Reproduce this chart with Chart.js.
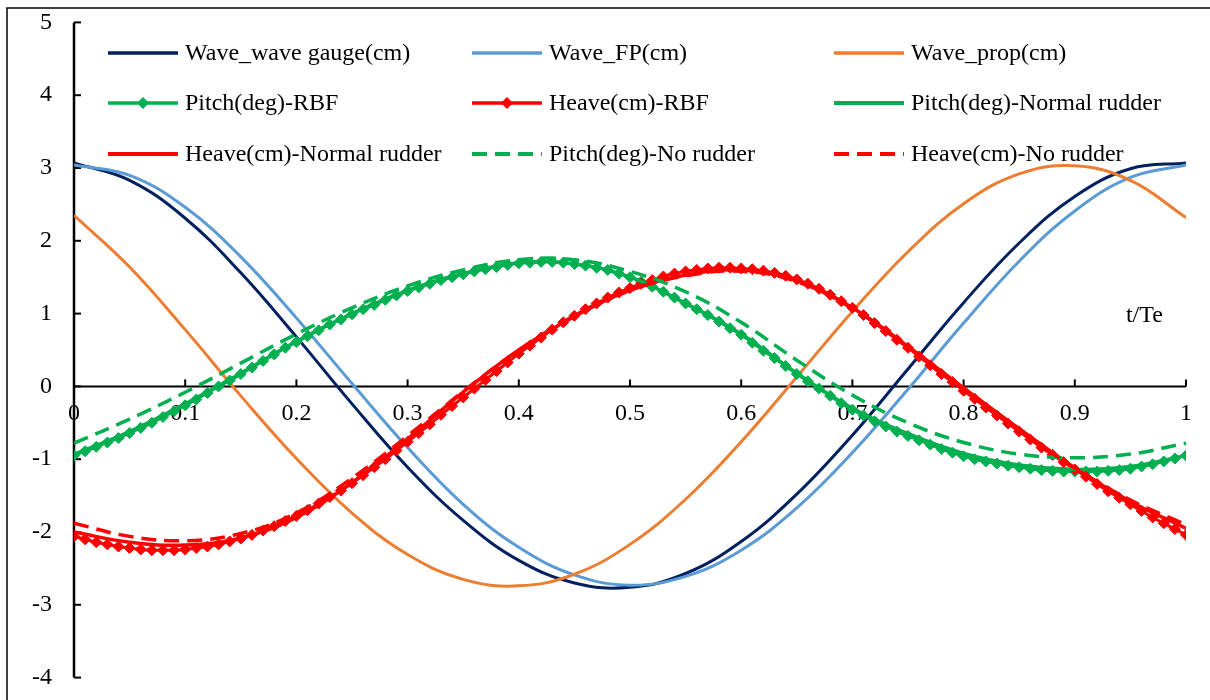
<!DOCTYPE html>
<html>
<head>
<meta charset="utf-8">
<script src="https://cdn.jsdelivr.net/npm/chart.js@4.4.1/dist/chart.umd.min.js"></script>
<style>
  html, body { margin: 0; padding: 0; background: #fff; }
  canvas { display: block; }
</style>
</head>
<body>
<canvas id="motionChart" width="1210" height="700"></canvas>
<script>
// x positions (t/Te)
const tCoarse = [0, 0.05, 0.1, 0.15, 0.2, 0.25, 0.3, 0.35, 0.4, 0.45, 0.5,
  0.55, 0.6, 0.65, 0.7, 0.75, 0.8, 0.85, 0.9, 0.95, 1];
const tFine = [0, 0.01, 0.02, 0.03, 0.04, 0.05, 0.06, 0.07, 0.08, 0.09,
  0.1, 0.11, 0.12, 0.13, 0.14, 0.15, 0.16, 0.17, 0.18, 0.19,
  0.2, 0.21, 0.22, 0.23, 0.24, 0.25, 0.26, 0.27, 0.28, 0.29,
  0.3, 0.31, 0.32, 0.33, 0.34, 0.35, 0.36, 0.37, 0.38, 0.39,
  0.4, 0.41, 0.42, 0.43, 0.44, 0.45, 0.46, 0.47, 0.48, 0.49,
  0.5, 0.51, 0.52, 0.53, 0.54, 0.55, 0.56, 0.57, 0.58, 0.59,
  0.6, 0.61, 0.62, 0.63, 0.64, 0.65, 0.66, 0.67, 0.68, 0.69,
  0.7, 0.71, 0.72, 0.73, 0.74, 0.75, 0.76, 0.77, 0.78, 0.79,
  0.8, 0.81, 0.82, 0.83, 0.84, 0.85, 0.86, 0.87, 0.88, 0.89,
  0.9, 0.91, 0.92, 0.93, 0.94, 0.95, 0.96, 0.97, 0.98, 0.99, 1];

// wave elevations (cm)
const waveGauge = [3.07, 2.83, 2.31, 1.56, 0.68, -0.24, -1.11, -1.84, -2.39, -2.70, -2.76,
  -2.57, -2.13, -1.48, -0.67, 0.24, 1.15, 1.97, 2.61, 2.99, 3.07];
const waveFP = [3.04, 2.90, 2.46, 1.78, 0.94, 0.04, -0.84, -1.62, -2.21, -2.59, -2.73,
  -2.61, -2.25, -1.67, -0.91, -0.04, 0.87, 1.72, 2.41, 2.87, 3.04];
const waveProp = [2.35, 1.64, 0.78, -0.13, -0.99, -1.74, -2.31, -2.65, -2.74, -2.58, -2.17,
  -1.55, -0.76, 0.13, 1.03, 1.85, 2.51, 2.92, 3.03, 2.83, 2.32];

// RBF controlled motions (one marker per sample)
const pitchRBF = [-0.95, -0.89, -0.83, -0.77, -0.71, -0.64, -0.57, -0.50, -0.42, -0.34,
  -0.26, -0.18, -0.09, 0.00, 0.08, 0.17, 0.26, 0.35, 0.44, 0.53,
  0.61, 0.69, 0.77, 0.85, 0.92, 0.99, 1.06, 1.12, 1.19, 1.25,
  1.31, 1.36, 1.41, 1.46, 1.50, 1.54, 1.58, 1.61, 1.64, 1.67,
  1.69, 1.70, 1.71, 1.71, 1.70, 1.68, 1.66, 1.63, 1.60, 1.55,
  1.50, 1.44, 1.37, 1.30, 1.22, 1.14, 1.06, 0.98, 0.89, 0.80,
  0.71, 0.60, 0.49, 0.39, 0.28, 0.17, 0.07, -0.03, -0.13, -0.23,
  -0.32, -0.40, -0.48, -0.55, -0.62, -0.68, -0.74, -0.80, -0.86, -0.91,
  -0.96, -1.00, -1.03, -1.06, -1.09, -1.11, -1.13, -1.15, -1.16, -1.17,
  -1.17, -1.17, -1.17, -1.16, -1.15, -1.13, -1.10, -1.07, -1.03, -0.99, -0.95];
const heaveRBF = [-2.06, -2.10, -2.14, -2.17, -2.20, -2.22, -2.24, -2.25, -2.25, -2.25,
  -2.24, -2.22, -2.20, -2.17, -2.13, -2.09, -2.04, -1.98, -1.92, -1.85,
  -1.78, -1.70, -1.61, -1.52, -1.43, -1.33, -1.22, -1.11, -1.00, -0.88,
  -0.76, -0.64, -0.52, -0.39, -0.27, -0.15, -0.03, 0.09, 0.21, 0.33,
  0.45, 0.56, 0.67, 0.78, 0.88, 0.97, 1.06, 1.14, 1.22, 1.29,
  1.35, 1.41, 1.46, 1.51, 1.55, 1.58, 1.60, 1.62, 1.63, 1.63,
  1.62, 1.61, 1.59, 1.56, 1.52, 1.47, 1.41, 1.34, 1.26, 1.17,
  1.08, 0.98, 0.87, 0.76, 0.64, 0.53, 0.41, 0.29, 0.17, 0.06,
  -0.06, -0.17, -0.29, -0.40, -0.51, -0.62, -0.73, -0.84, -0.94, -1.04,
  -1.14, -1.24, -1.34, -1.44, -1.53, -1.62, -1.71, -1.80, -1.88, -1.96, -2.04];

// normal rudder / no rudder
const pitchNormal = [-0.93, -0.62, -0.24, 0.18, 0.62, 1.00, 1.32, 1.55, 1.70, 1.68, 1.50,
  1.14, 0.72, 0.18, -0.30, -0.65, -0.92, -1.08, -1.14, -1.10, -0.95];
const heaveNormal = [-2.00, -2.14, -2.18, -2.08, -1.80, -1.32, -0.72, -0.08, 0.50, 0.96, 1.32,
  1.53, 1.60, 1.45, 1.08, 0.55, -0.02, -0.58, -1.12, -1.58, -1.95];
const pitchNoRudder = [-0.78, -0.45, -0.08, 0.32, 0.72, 1.08, 1.38, 1.60, 1.74, 1.74, 1.58,
  1.30, 0.88, 0.36, -0.12, -0.50, -0.77, -0.93, -0.98, -0.93, -0.78];
const heaveNoRudder = [-1.88, -2.06, -2.12, -2.02, -1.74, -1.26, -0.68, -0.07, 0.50, 0.97, 1.32,
  1.52, 1.58, 1.44, 1.07, 0.54, -0.03, -0.60, -1.12, -1.56, -1.90];

const yTicks = [-4, -3, -2, -1, 0, 1, 2, 3, 4, 5];

const SERIF = "'Liberation Serif', 'Times New Roman', serif";
const NAVY = '#002060', LBLUE = '#5B9BD5', ORANGE = '#ED7D31', GREEN = '#00B050', RED = '#FF0000';

function series(label, xs, ys, color, extra) {
  return Object.assign({
    label,
    data: xs.map((x, i) => ({ x, y: ys[i] })),
    borderColor: color,
    backgroundColor: color,
    borderWidth: 3,
    pointRadius: 0,
    tension: 0.4,
    fill: false
  }, extra || {});
}

const marker = { pointRadius: 5.5, pointStyle: 'rectRot', pointBorderWidth: 1, tension: 0.3 };
const datasets = [
  series('Wave_wave gauge(cm)', tCoarse, waveGauge, NAVY),
  series('Wave_FP(cm)', tCoarse, waveFP, LBLUE),
  series('Wave_prop(cm)', tCoarse, waveProp, ORANGE),
  series('Pitch(deg)-RBF', tFine, pitchRBF, GREEN, marker),
  series('Heave(cm)-RBF', tFine, heaveRBF, RED, marker),
  series('Pitch(deg)-Normal rudder', tCoarse, pitchNormal, GREEN, { borderWidth: 3.5 }),
  series('Heave(cm)-Normal rudder', tCoarse, heaveNormal, RED, { borderWidth: 3.5 }),
  series('Pitch(deg)-No rudder', tCoarse, pitchNoRudder, GREEN, { borderWidth: 3.5, borderDash: [15, 8] }),
  series('Heave(cm)-No rudder', tCoarse, heaveNoRudder, RED, { borderWidth: 3.5, borderDash: [15, 8] })
];
// later series on top, like the spreadsheet
datasets.forEach((d, i) => { d.order = datasets.length - i; });

// axes through the origin, tick marks pointing inward
const axesPlugin = {
  id: 'axesThroughZero',
  beforeDatasetsDraw(chart) {
    const { ctx, scales: { x, y } } = chart;
    const x0 = x.getPixelForValue(0), y0 = y.getPixelForValue(0);
    ctx.save();
    ctx.strokeStyle = '#000';
    ctx.lineWidth = 2.5;
    ctx.beginPath();
    ctx.moveTo(x0, y.getPixelForValue(5));
    ctx.lineTo(x0, y.getPixelForValue(-4));
    ctx.stroke();
    ctx.lineWidth = 2;
    ctx.beginPath();
    ctx.moveTo(x.getPixelForValue(0), y0);
    ctx.lineTo(x.getPixelForValue(1), y0);
    ctx.stroke();
    yTicks.forEach(v => {
      const py = y.getPixelForValue(v);
      ctx.beginPath();
      ctx.moveTo(x0, py);
      ctx.lineTo(x0 + 7, py);
      ctx.stroke();
    });
    x.ticks.forEach(t => {
      const px = x.getPixelForValue(t.value);
      ctx.beginPath();
      ctx.moveTo(px, y0);
      ctx.lineTo(px, y0 - 7);
      ctx.stroke();
    });
    ctx.restore();
  },
  afterDraw(chart) {
    const { ctx, scales: { x, y } } = chart;
    ctx.save();
    // outer frame (top and left edges visible)
    ctx.strokeStyle = '#000';
    ctx.lineWidth = 1.5;
    ctx.beginPath();
    ctx.moveTo(7, chart.height);
    ctx.lineTo(7, 8);
    ctx.lineTo(chart.width, 8);
    ctx.stroke();
    // axis title
    ctx.fillStyle = '#000';
    ctx.font = '24px ' + SERIF;
    ctx.textAlign = 'left';
    ctx.textBaseline = 'middle';
    ctx.fillText('t/Te', x.getPixelForValue(0.946), y.getPixelForValue(0.97));
    ctx.restore();
  }
};

// 3x3 legend inside the plot
const legendPlugin = {
  id: 'gridLegend',
  afterDraw(chart) {
    const { ctx } = chart;
    const colX = [108, 472, 834];
    const rowY = [53, 103, 154];
    ctx.save();
    ctx.font = '24px ' + SERIF;
    ctx.textBaseline = 'middle';
    ctx.textAlign = 'left';
    chart.data.datasets.forEach((d, i) => {
      const lx = colX[i % 3], ly = rowY[Math.floor(i / 3)];
      ctx.strokeStyle = d.borderColor;
      ctx.lineWidth = d.borderWidth + 0.5;
      ctx.setLineDash(d.borderDash || []);
      ctx.beginPath();
      ctx.moveTo(lx, ly);
      ctx.lineTo(lx + 70, ly);
      ctx.stroke();
      ctx.setLineDash([]);
      if (d.pointRadius > 0) {
        const r = d.pointRadius + 0.5;
        ctx.fillStyle = d.borderColor;
        ctx.beginPath();
        ctx.moveTo(lx + 35, ly - r);
        ctx.lineTo(lx + 35 + r, ly);
        ctx.lineTo(lx + 35, ly + r);
        ctx.lineTo(lx + 35 - r, ly);
        ctx.closePath();
        ctx.fill();
      }
      ctx.fillStyle = '#000';
      ctx.fillText(d.label, lx + 77, ly + 1);
    });
    ctx.restore();
  }
};

Chart.defaults.font.family = SERIF;
Chart.defaults.color = '#000';

new Chart(document.getElementById('motionChart'), {
  type: 'line',
  data: { datasets },
  options: {
    responsive: false,
    animation: false,
    devicePixelRatio: 1,
    layout: { padding: { left: 0, right: 24, top: 5, bottom: 5 } },
    plugins: {
      legend: { display: false },
      tooltip: { enabled: false }
    },
    scales: {
      x: {
        type: 'linear',
        min: 0,
        max: 1,
        position: { y: 0 },
        grid: { display: false },
        border: { display: false },
        ticks: {
          stepSize: 0.1,
          font: { size: 24, lineHeight: 1 },
          color: '#000',
          padding: 7,
          maxRotation: 0,
          callback: v => String(Math.round(v * 10) / 10)
        }
      },
      y: {
        min: -4,
        max: 5,
        position: 'left',
        grid: { display: false },
        border: { display: false },
        afterFit: s => { s.width = 74; },
        ticks: {
          stepSize: 1,
          font: { size: 24, lineHeight: 0.7 },
          color: '#000',
          padding: 14
        }
      }
    }
  },
  plugins: [axesPlugin, legendPlugin]
});
</script>
</body>
</html>
